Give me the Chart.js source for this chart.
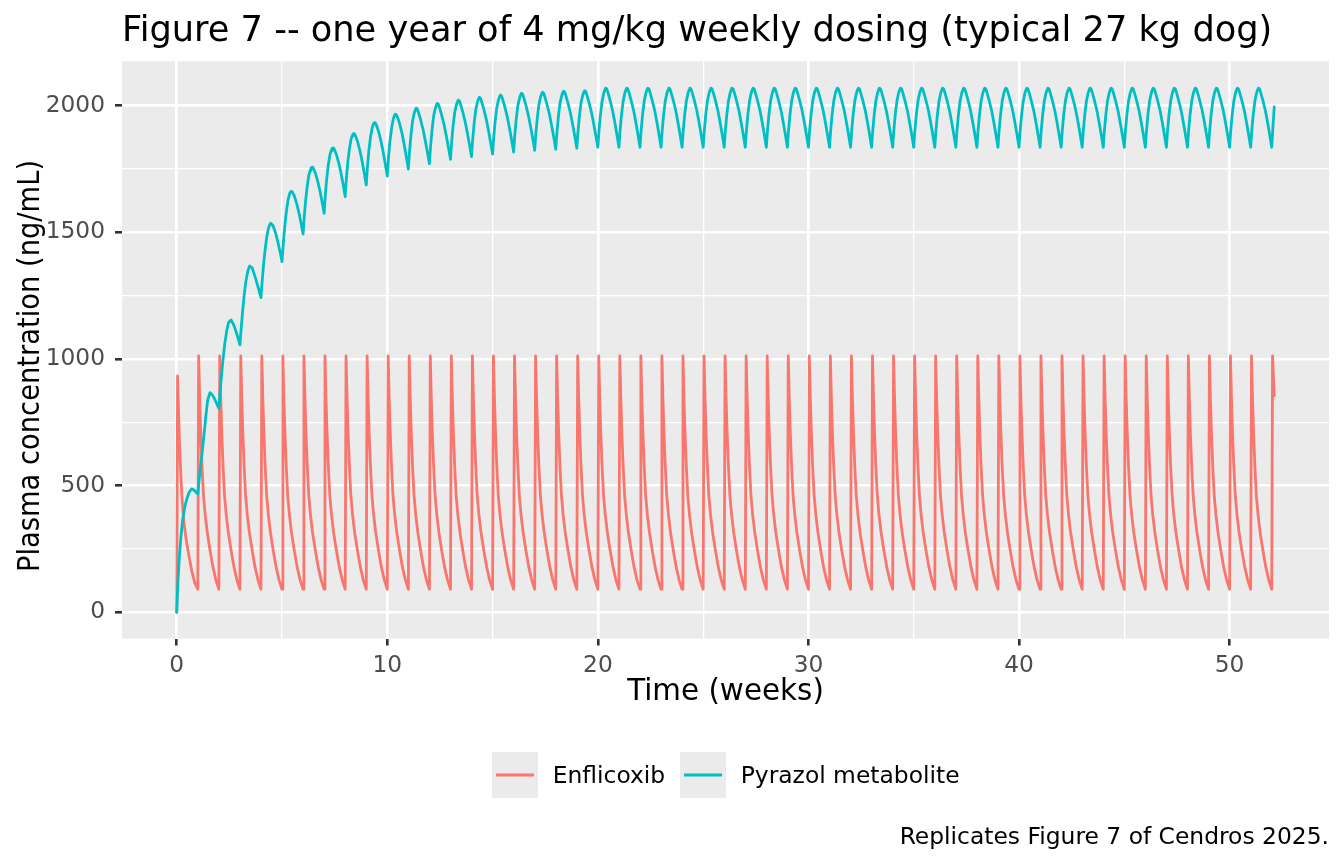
<!DOCTYPE html>
<html>
<head>
<meta charset="utf-8">
<script src="https://cdn.jsdelivr.net/npm/chart.js@4.4.1/dist/chart.umd.min.js"></script>
<style>
  html, body { margin: 0; padding: 0; background: #ffffff; }
  canvas { display: block; }
</style>
</head>
<body>
<canvas id="c" width="1344" height="864"></canvas>
<script>
// ---------------- data ----------------
const seriesNames = ['Enflicoxib', 'Pyrazol metabolite'];
const seriesColors = ['#F8766D', '#00BFC4'];

// Enflicoxib: sample times inside a dosing week (weeks after the dose)
const enfOffsets   = [0, 0.04, 0.09, 0.14, 0.2, 0.27, 0.35, 0.45, 0.58, 0.72, 0.86];
const enfFirstWeek = [0, 933, 775, 650, 530, 425, 350, 285, 222, 160, 115];
const enfWeekly    = [91, 1012, 840, 705, 575, 460, 385, 315, 245, 178, 127];
const enfLastTimes  = [52, 52.04, 52.12];
const enfLastValues = [91, 1012, 855];

// Pyrazol metabolite: sample times inside a week, one row per early week
const pyrOffsets = [0, 0.05, 0.12, 0.2, 0.28, 0.33, 0.37, 0.42, 0.47, 0.58, 0.7, 0.8, 0.9];
const pyrEarlyWeeks = [
  [0, 110, 215, 300, 365, 390, 410, 429, 445, 472, 487, 484, 476],
  [467, 510, 570, 625, 690, 730, 765, 803, 838, 867, 857, 842, 824],
  [805, 860, 930, 1000, 1060, 1087, 1110, 1130, 1145, 1154, 1135, 1112, 1085],
  [1056, 1110, 1180, 1250, 1305, 1327, 1345, 1359, 1367, 1360, 1330, 1302, 1273],
  [1242, 1300, 1370, 1435, 1485, 1505, 1520, 1531, 1536, 1525, 1495, 1463, 1425],
  [1384, 1445, 1515, 1578, 1625, 1643, 1655, 1661, 1662, 1645, 1612, 1578, 1538],
  [1493, 1555, 1625, 1685, 1728, 1743, 1753, 1757, 1756, 1735, 1700, 1664, 1622],
  [1575, 1640, 1710, 1768, 1808, 1822, 1830, 1833, 1830, 1808, 1772, 1734, 1690],
  [1641, 1706, 1775, 1830, 1868, 1881, 1888, 1890, 1885, 1860, 1822, 1782, 1736],
  [1687, 1752, 1820, 1875, 1912, 1925, 1932, 1933, 1926, 1900, 1860, 1818, 1771],
  [1722, 1788, 1856, 1910, 1946, 1959, 1966, 1965, 1957, 1930, 1890, 1847, 1799],
  [1750, 1815, 1882, 1940, 1971, 1983, 1990, 1987, 1976, 1945, 1905, 1863, 1818],
  [1771, 1835, 1902, 1959, 1990, 2002, 2009, 2006, 1995, 1963, 1923, 1881, 1836],
  [1788, 1851, 1917, 1973, 2003, 2015, 2022, 2019, 2008, 1976, 1935, 1893, 1847],
  [1799, 1862, 1928, 1984, 2014, 2026, 2033, 2030, 2018, 1987, 1946, 1904, 1857],
  [1809, 1872, 1937, 1993, 2023, 2035, 2042, 2039, 2027, 1995, 1955, 1912, 1866],
  [1817, 1880, 1945, 2000, 2030, 2042, 2049, 2046, 2034, 2002, 1962, 1919, 1873],
  [1824, 1886, 1950, 2005, 2035, 2047, 2053, 2050, 2038, 2006, 1966, 1923, 1877],
  [1828, 1890, 1954, 2009, 2039, 2051, 2057, 2054, 2042, 2010, 1970, 1927, 1881],
  [1832, 1893, 1957, 2011, 2041, 2053, 2059, 2056, 2044, 2012, 1972, 1929, 1882]
];
const pyrSteadyWeek = [1836, 1898, 1963, 2018, 2050, 2062, 2069, 2066, 2054, 2021, 1980, 1936, 1887];
const pyrLastTimes  = [52, 52.05, 52.12];
const pyrLastValues = [1836, 1905, 1995];

const doseWeeks = 52;

// axes
const xTickValues = [0, 5, 10, 15, 20, 25, 30, 35, 40, 45, 50];
const xTickLabels = ['0', '', '10', '', '20', '', '30', '', '40', '', '50'];
const yTickValues = [0, 250, 500, 750, 1000, 1250, 1500, 1750, 2000];
const yTickLabels = ['0', '', '500', '', '1000', '', '1500', '', '2000'];
const xLimits = [-2.6, 54.72];
const yLimits = [-103.6, 2175.6];

const titleText = 'Figure 7 -- one year of 4 mg/kg weekly dosing (typical 27 kg dog)';
const xTitle = 'Time (weeks)';
const yTitle = 'Plasma concentration (ng/mL)';
const captionText = 'Replicates Figure 7 of Cendros 2025.';

// ---------------- build point lists ----------------
const enfPoints = [];
for (let w = 0; w < doseWeeks; w++) {
  const row = w === 0 ? enfFirstWeek : enfWeekly;
  enfOffsets.forEach((o, i) => enfPoints.push({ x: w + o, y: row[i] }));
}
enfLastTimes.forEach((t, i) => enfPoints.push({ x: t, y: enfLastValues[i] }));

const pyrPoints = [];
for (let w = 0; w < doseWeeks; w++) {
  const row = w < pyrEarlyWeeks.length ? pyrEarlyWeeks[w] : pyrSteadyWeek;
  pyrOffsets.forEach((o, i) => pyrPoints.push({ x: w + o, y: row[i] }));
}
pyrLastTimes.forEach((t, i) => pyrPoints.push({ x: t, y: pyrLastValues[i] }));

// ---------------- styling ----------------
const FONT = '"DejaVu Sans", "Liberation Sans", sans-serif';
const PANEL_BG = '#EBEBEB';

const decor = {
  id: 'decor',
  beforeDraw(chart) {
    const { ctx, chartArea: a } = chart;
    ctx.save();
    ctx.fillStyle = '#FFFFFF';
    ctx.fillRect(0, 0, chart.width, chart.height);
    ctx.fillStyle = PANEL_BG;
    ctx.fillRect(a.left, a.top, a.right - a.left, a.bottom - a.top);
    ctx.restore();
  },
  afterDraw(chart) {
    const { ctx, chartArea: a } = chart;
    const cx = (a.left + a.right) / 2;
    ctx.save();
    ctx.fillStyle = '#000000';
    ctx.textBaseline = 'alphabetic';

    // title
    ctx.font = '35.2px ' + FONT;
    ctx.textAlign = 'left';
    ctx.fillText(titleText, a.left, 41);

    // axis titles
    ctx.font = '29.4px ' + FONT;
    ctx.textAlign = 'center';
    ctx.fillText(xTitle, cx, 700);
    ctx.save();
    ctx.translate(38.8, 366);
    ctx.rotate(-Math.PI / 2);
    ctx.scale(0.93, 1);
    ctx.fillText(yTitle, 0, 0);
    ctx.restore();

    // legend
    const keyTop = 752, keySize = 46;
    const keyXs = [492, 680];
    const textXs = [552.7, 740.7];
    ctx.font = '23.4px ' + FONT;
    ctx.textAlign = 'left';
    seriesNames.forEach((name, i) => {
      ctx.fillStyle = PANEL_BG;
      ctx.fillRect(keyXs[i], keyTop, keySize, keySize);
      ctx.strokeStyle = seriesColors[i];
      ctx.lineWidth = 3;
      ctx.beginPath();
      ctx.moveTo(keyXs[i] + 4, keyTop + keySize / 2);
      ctx.lineTo(keyXs[i] + keySize - 4, keyTop + keySize / 2);
      ctx.stroke();
      ctx.fillStyle = '#000000';
      ctx.fillText(name, textXs[i], keyTop + keySize / 2 + 8.4);
    });

    // caption
    ctx.textAlign = 'right';
    ctx.fillText(captionText, a.right, 844);
    ctx.restore();
  }
};

const isMajorX = v => v % 10 === 0;
const isMajorY = v => v % 500 === 0;

new Chart(document.getElementById('c'), {
  type: 'line',
  data: {
    datasets: [
      {
        label: seriesNames[0],
        data: enfPoints,
        borderColor: seriesColors[0],
        borderWidth: 2.8,
        borderJoinStyle: 'round',
        borderCapStyle: 'round',
        pointRadius: 0,
        tension: 0,
        fill: false,
        order: 2
      },
      {
        label: seriesNames[1],
        data: pyrPoints,
        borderColor: seriesColors[1],
        borderWidth: 2.8,
        borderJoinStyle: 'round',
        borderCapStyle: 'round',
        pointRadius: 0,
        tension: 0,
        fill: false,
        order: 1
      }
    ]
  },
  options: {
    responsive: false,
    animation: false,
    events: [],
    layout: { padding: { left: 0, right: 15, top: 61.2, bottom: 145.5 } },
    plugins: {
      legend: { display: false },
      title: { display: false },
      tooltip: { enabled: false }
    },
    scales: {
      x: {
        type: 'linear',
        min: xLimits[0],
        max: xLimits[1],
        afterBuildTicks: s => { s.ticks = xTickValues.map(v => ({ value: v })); },
        afterFit: s => { s.height = 80; },
        border: { display: false },
        grid: {
          color: '#FFFFFF',
          lineWidth: c => (c.tick && isMajorX(c.tick.value)) ? 2.6 : 1.3,
          drawTicks: true,
          tickLength: 7,
          tickWidth: 2.6,
          tickColor: c => (c.tick && isMajorX(c.tick.value)) ? '#333333' : 'rgba(0,0,0,0)'
        },
        ticks: {
          autoSkip: false,
          maxRotation: 0,
          minRotation: 0,
          padding: 6,
          color: '#4D4D4D',
          font: { family: FONT, size: 23.3 },
          callback: v => { const i = xTickValues.indexOf(v); return i >= 0 ? xTickLabels[i] : ''; }
        }
      },
      y: {
        type: 'linear',
        min: yLimits[0],
        max: yLimits[1],
        afterBuildTicks: s => { s.ticks = yTickValues.map(v => ({ value: v })); },
        afterFit: s => { s.width = 122; },
        border: { display: false },
        grid: {
          color: '#FFFFFF',
          lineWidth: c => (c.tick && isMajorY(c.tick.value)) ? 2.6 : 1.3,
          drawTicks: true,
          tickLength: 7,
          tickWidth: 2.6,
          tickColor: c => (c.tick && isMajorY(c.tick.value)) ? '#333333' : 'rgba(0,0,0,0)'
        },
        ticks: {
          autoSkip: false,
          padding: 10,
          color: '#4D4D4D',
          font: { family: FONT, size: 23.3 },
          callback: v => { const i = yTickValues.indexOf(v); return i >= 0 ? yTickLabels[i] : ''; }
        }
      }
    }
  },
  plugins: [decor]
});
</script>
</body>
</html>
